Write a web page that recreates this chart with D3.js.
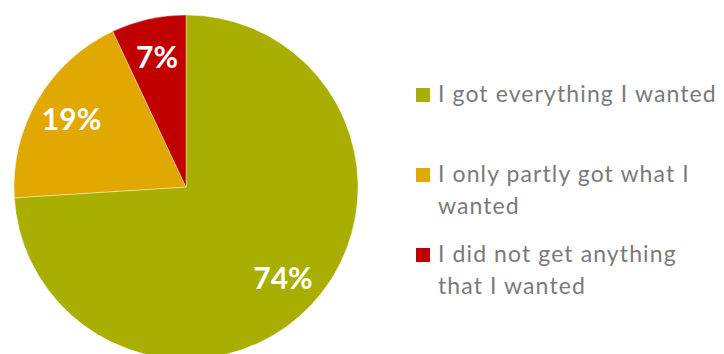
<!DOCTYPE html>
<html>
<head>
<meta charset="utf-8">
<script src="https://cdn.jsdelivr.net/npm/d3@7"></script>
<style>
  html, body { margin: 0; padding: 0; background: #fff; }
  svg { display: block; }
</style>
</head>
<body>
<svg id="chart" width="724" height="354"></svg>
<script>
// Survey answers and their shares (percent)
const categories = [
  "I got everything I wanted",
  "I only partly got what I\nwanted",
  "I did not get anything\nthat I wanted"
];
const values = [74, 19, 7];
const colors = ["#A9AF00", "#E0A800", "#C00000"];

const svg = d3.select("#chart");

// Pie
const cx = 186, cy = 187, radius = 172;
const pie = d3.pie().sort(null).value(d => d.value);
const data = categories.map((c, i) => ({ name: c, value: values[i], color: colors[i] }));
const arcs = pie(data);

const arc = d3.arc().innerRadius(0).outerRadius(radius);
const labelArc = d3.arc().innerRadius(133).outerRadius(133);

const g = svg.append("g").attr("transform", `translate(${cx},${cy})`);

g.selectAll("path.slice")
  .data(arcs)
  .join("path")
  .attr("class", "slice")
  .attr("d", arc)
  .attr("fill", d => d.data.color)
  .attr("stroke", "#ffffff")
  .attr("stroke-width", 0.6)
  .attr("stroke-opacity", 0.6);

g.selectAll("text.pct")
  .data(arcs)
  .join("text")
  .attr("class", "pct")
  .attr("transform", d => `translate(${labelArc.centroid(d)})`)
  .attr("text-anchor", "middle")
  .attr("dy", "0.36em")
  .attr("fill", "#ffffff")
  .style("font-family", "Lato, 'Open Sans', sans-serif")
  .style("font-weight", "bold")
  .style("font-size", "30px")
  .text(d => d.data.value + "%");

// Legend
const legendX = 416;
const rowY = d3.scalePoint().domain(categories).range([88, 248]);
const lineHeight = 32;

const legend = svg.append("g");
const items = legend.selectAll("g.item")
  .data(data)
  .join("g")
  .attr("class", "item")
  .attr("transform", d => `translate(${legendX},${rowY(d.name)})`);

items.append("rect")
  .attr("width", 14)
  .attr("height", 14)
  .attr("fill", d => d.color);

items.append("text")
  .attr("x", 22)
  .attr("y", 14)
  .attr("fill", "#7a7a7a")
  .style("font-family", "Lato, 'Open Sans', sans-serif")
  .style("font-size", "23px")
  .style("letter-spacing", "1.1px")
  .selectAll("tspan")
  .data(d => d.name.split("\n"))
  .join("tspan")
  .attr("x", 22)
  .attr("dy", (d, i) => i === 0 ? 0 : lineHeight)
  .text(d => d);
</script>
</body>
</html>
